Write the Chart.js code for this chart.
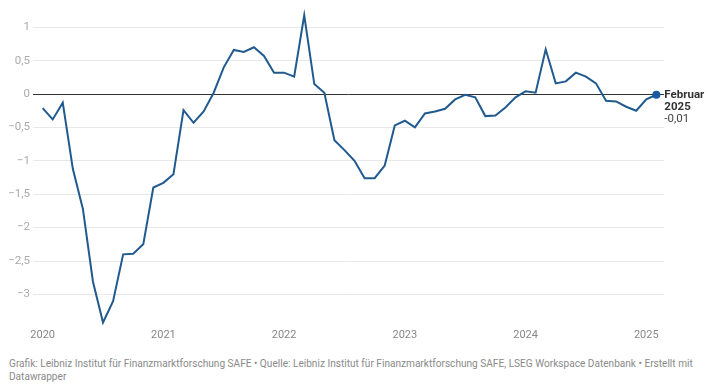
<!DOCTYPE html>
<html><head><meta charset="utf-8">
<script src="https://cdn.jsdelivr.net/npm/chart.js@4.4.1/dist/chart.umd.min.js"></script>
<style>
html,body{margin:0;padding:0;background:#fff;width:710px;height:390px;overflow:hidden;font-family:Roboto,sans-serif}
#wrap{position:absolute;left:0;top:0;width:710px;height:345px}
#foot{position:absolute;left:9px;top:358px;width:695px;font-size:10.1px;line-height:12.5px;color:#8a8a8a}
</style></head><body>
<div id="wrap"><canvas id="c" width="710" height="345"></canvas></div>
<div id="foot">Grafik: Leibniz Institut für Finanzmarktforschung SAFE • Quelle: Leibniz Institut für Finanzmarktforschung SAFE, LSEG Workspace Datenbank • Erstellt mit Datawrapper</div>
<script>
const months = [
 '2020-01','2020-02','2020-03','2020-04','2020-05','2020-06','2020-07','2020-08','2020-09','2020-10','2020-11','2020-12',
 '2021-01','2021-02','2021-03','2021-04','2021-05','2021-06','2021-07','2021-08','2021-09','2021-10','2021-11','2021-12',
 '2022-01','2022-02','2022-03','2022-04','2022-05','2022-06','2022-07','2022-08','2022-09','2022-10','2022-11','2022-12',
 '2023-01','2023-02','2023-03','2023-04','2023-05','2023-06','2023-07','2023-08','2023-09','2023-10','2023-11','2023-12',
 '2024-01','2024-02','2024-03','2024-04','2024-05','2024-06','2024-07','2024-08','2024-09','2024-10','2024-11','2024-12',
 '2025-01','2025-02'
];
const values = [
 -0.21,-0.38,-0.13,-1.12,-1.72,-2.81,-3.42,-3.10,-2.40,-2.39,-2.25,-1.40,
 -1.33,-1.20,-0.24,-0.43,-0.26,0.02,0.40,0.66,0.63,0.70,0.57,0.32,
 0.32,0.26,1.18,0.15,0.02,-0.69,-0.84,-1.00,-1.26,-1.26,-1.07,-0.47,
 -0.40,-0.50,-0.29,-0.26,-0.22,-0.08,-0.01,-0.05,-0.33,-0.32,-0.20,-0.05,
 0.04,0.02,0.67,0.16,0.19,0.32,0.26,0.16,-0.10,-0.11,-0.19,-0.25,
 -0.08,-0.01
];
const yearLabels = ['2020','2021','2022','2023','2024','2025'];
const yearMonths = ['2020-01','2021-01','2022-01','2023-01','2024-01','2025-01'];
const yTicks = [1,0.5,0,-0.5,-1,-1.5,-2,-2.5,-3];
const endLabel = ['Februar','2025'];

const fmt = v => String(v).replace('-', '\u2212').replace('.', ',');
const yearIdx = yearMonths.map(m => months.indexOf(m));

const endLabelPlugin = {
  id: 'endLabel',
  afterDatasetsDraw(chart) {
    const meta = chart.getDatasetMeta(0);
    const pt = meta.data[meta.data.length - 1];
    const ctx = chart.ctx;
    ctx.save();
    ctx.textBaseline = 'middle';
    ctx.textAlign = 'left';
    const x = pt.x + 8;
    ctx.fillStyle = '#333';
    ctx.font = 'bold 11.5px Roboto';
    ctx.fillText(endLabel[0], x, pt.y + 0.5);
    ctx.fillText(endLabel[1], x, pt.y + 12.5);
    ctx.font = '11.5px Roboto';
    ctx.fillStyle = '#444';
    ctx.fillText(String(values[values.length - 1]).replace('.', ','), x, pt.y + 24.5);
    ctx.restore();
  }
};

new Chart(document.getElementById('c'), {
  type: 'line',
  data: {
    datasets: [{
      data: values.map((v, i) => ({ x: i, y: v })),
      borderColor: '#215a8f',
      borderWidth: 2,
      tension: 0,
      clip: false,
      pointRadius: c => c.dataIndex === values.length - 1 ? 4 : 0,
      pointHoverRadius: 0,
      pointBackgroundColor: '#1a5aa0',
      pointBorderWidth: 0
    }]
  },
  options: {
    responsive: false,
    animation: false,
    devicePixelRatio: 1,
    events: [],
    layout: { padding: { top: 6, right: 46, left: 0, bottom: 0 } },
    plugins: { legend: { display: false }, tooltip: { enabled: false } },
    scales: {
      x: {
        type: 'linear',
        min: -0.96,
        max: 61.76,
        border: { display: false },
        grid: { display: false, drawTicks: false },
        afterBuildTicks: axis => { axis.ticks = yearIdx.map(v => ({ value: v })); },
        afterFit: axis => { axis.height = 19.2; },
        ticks: {
          autoSkip: false, maxRotation: 0, padding: 3,
          color: '#888', font: { family: 'Roboto', size: 11 },
          callback: v => { const k = yearIdx.indexOf(v); return k >= 0 ? yearLabels[k] : ''; }
        }
      },
      y: {
        min: -3.47,
        max: 1.26,
        border: { display: false },
        grid: {
          drawTicks: false,
          color: c => (c.tick && c.tick.value === 0) ? '#333' : '#e8e8e8',
          lineWidth: 1
        },
        afterBuildTicks: axis => { axis.ticks = yTicks.map(v => ({ value: v })); },
        afterFit: axis => { axis.width = 33; },
        ticks: {
          padding: 3,
          color: '#aaa', font: { family: 'Roboto', size: 11.5 },
          callback: v => fmt(v)
        }
      }
    }
  },
  plugins: [endLabelPlugin]
});
</script>
</body></html>
